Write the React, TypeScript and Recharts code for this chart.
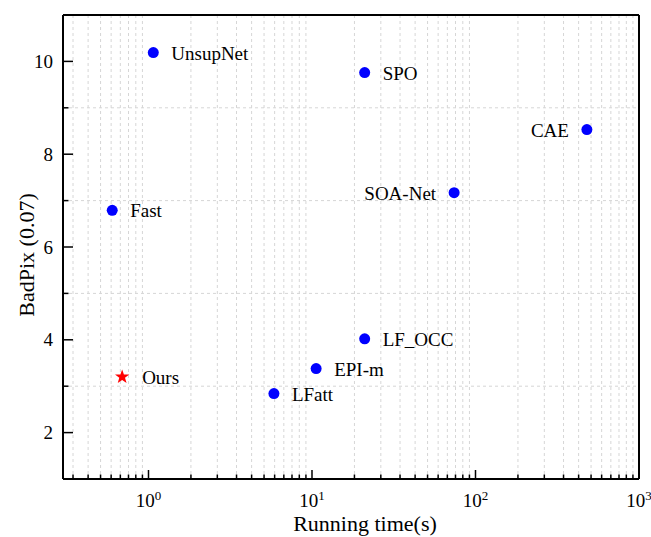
import React from 'react';
import { ScatterChart, Scatter, XAxis, YAxis, CartesianGrid } from 'recharts';

// BadPix (0.07) vs running time
const methodNames = ['UnsupNet', 'Fast', 'LFatt', 'EPI-m', 'LF_OCC', 'SPO', 'SOA-Net', 'CAE'];
const methodTimes = [1.07, 0.6, 5.85, 10.6, 21, 21, 74, 480];
const methodBadPix = [10.19, 6.79, 2.84, 3.38, 4.02, 9.76, 7.17, 8.53];

const oursNames = ['Ours'];
const oursTimes = [0.69];
const oursBadPix = [3.2];

// labels drawn on the left side of their point
const leftLabelled = ['SOA-Net', 'CAE'];

// log axis: majors at decades, Origin-style 10 minor ticks per decade
const xMajorTicks = [1, 10, 100, 1000];
const xMinorSteps = [1.818, 2.636, 3.455, 4.273, 5.091, 5.909, 6.727, 7.545, 8.364, 9.182];
const xDecades = [0.1, 1, 10, 100];

const yTicks = [2, 3, 4, 5, 6, 7, 8, 9, 10];
const yLabelled = [2, 4, 6, 8, 10];
const yGridLines = [3, 5, 7, 9];
const rightTicks = [1, 2, 3, 4, 5, 6, 7, 8];

const FONT = "'Liberation Serif', 'Times New Roman', serif";

const xMinorTicks = xDecades
  .flatMap((d) => xMinorSteps.map((s) => +(d * s).toPrecision(6)))
  .filter((v) => v > 0.3 && v < 1000);
const xTicks = [...xMinorTicks, ...xMajorTicks].sort((a, b) => a - b);

const methods = methodNames.map((name, i) => ({ name, time: methodTimes[i], badpix: methodBadPix[i] }));
const ours = oursNames.map((name, i) => ({ name, time: oursTimes[i], badpix: oursBadPix[i] }));

const isDecade = (v: number) => Math.abs(Math.log10(v) - Math.round(Math.log10(v))) < 1e-6;

const BottomTick = (props: any) => {
  const { x, y, payload } = props;
  const v = payload.value;
  const major = isDecade(v);
  return (
    <g>
      <line x1={x} x2={x} y1={y} y2={y - (major ? 9 : 4.5)} stroke="#000" strokeWidth={1.5} />
      {major && (
        <text x={x} y={y + 28} textAnchor="middle" fontSize={19} fontFamily={FONT} fill="#000">
          10
          <tspan dy={-7} fontSize={13}>
            {Math.round(Math.log10(v))}
          </tspan>
        </text>
      )}
    </g>
  );
};

const TopTick = (props: any) => {
  const { x, y } = props;
  return <line x1={x} x2={x} y1={y} y2={y + 4} stroke="#000" strokeWidth={1.5} />;
};

const LeftTick = (props: any) => {
  const { x, y, payload } = props;
  const major = yLabelled.includes(payload.value);
  return (
    <g>
      <line x1={x} x2={x + (major ? 10 : 5.5)} y1={y} y2={y} stroke="#000" strokeWidth={1.5} />
      {major && (
        <text x={x - 10} y={y + 6.5} textAnchor="end" fontSize={19} fontFamily={FONT} fill="#000">
          {payload.value}
        </text>
      )}
    </g>
  );
};

const RightTick = (props: any) => {
  const { x, y } = props;
  return <line x1={x} x2={x - 4} y1={y} y2={y} stroke="#000" strokeWidth={1.5} />;
};

const XTitle = () => (
  <text x={365} y={531} textAnchor="middle" fontSize={22} fontFamily={FONT} fill="#000">
    Running time(s)
  </text>
);

const YTitle = () => (
  <text
    x={34}
    y={255}
    transform="rotate(-90 34 255)"
    textAnchor="middle"
    fontSize={22}
    fontFamily={FONT}
    fill="#000"
  >
    BadPix (0.07)
  </text>
);

const MethodPoint = (props: any) => {
  const { cx, cy, payload } = props;
  const left = leftLabelled.includes(payload.name);
  return (
    <g>
      <circle cx={cx} cy={cy} r={5.5} fill="#0000ff" />
      <text
        x={left ? cx - 18 : cx + 18}
        y={cy + 7}
        textAnchor={left ? 'end' : 'start'}
        fontSize={19}
        fontFamily={FONT}
        fill="#000"
      >
        {payload.name}
      </text>
    </g>
  );
};

const starPath = (cx: number, cy: number, R: number, r: number) => {
  let d = '';
  for (let i = 0; i < 10; i++) {
    const a = -Math.PI / 2 + (i * Math.PI) / 5;
    const rad = i % 2 === 0 ? R : r;
    d += (i === 0 ? 'M' : 'L') + (cx + rad * Math.cos(a)).toFixed(2) + ',' + (cy + rad * Math.sin(a)).toFixed(2);
  }
  return d + 'Z';
};

const OursPoint = (props: any) => {
  const { cx, cy, payload } = props;
  return (
    <g>
      <path d={starPath(cx, cy, 7.5, 3)} fill="#ff0000" />
      <text x={cx + 20} y={cy + 7.5} fontSize={19} fontFamily={FONT} fill="#000">
        {payload.name}
      </text>
    </g>
  );
};

const axisLine = { stroke: '#000', strokeWidth: 2 };

export default function App() {
  return (
    <div style={{ position: 'absolute', left: 0, top: 0, width: 651, height: 537, background: '#fff' }}>
      <ScatterChart width={651} height={537} margin={{ top: 14, right: 11, bottom: 0, left: 0 }}>
        <CartesianGrid
          verticalValues={xMinorTicks}
          horizontalValues={yGridLines}
          stroke="#d6d6d6"
          strokeDasharray="3 3"
        />
        <XAxis
          dataKey="time"
          type="number"
          scale="log"
          domain={[0.3, 1000]}
          allowDataOverflow
          ticks={xTicks}
          interval={0}
          tickSize={0}
          tickMargin={0}
          tickLine={false}
          tick={BottomTick}
          axisLine={axisLine}
          height={58}
          label={XTitle}
        />
        <XAxis
          xAxisId="top"
          orientation="top"
          type="number"
          scale="log"
          domain={[0.3, 1000]}
          allowDataOverflow
          ticks={xMajorTicks}
          interval={0}
          tickSize={0}
          tickMargin={0}
          tickLine={false}
          tick={TopTick}
          axisLine={axisLine}
          height={1}
        />
        <YAxis
          dataKey="badpix"
          type="number"
          domain={[1, 11]}
          allowDataOverflow
          ticks={yTicks}
          interval={0}
          tickSize={0}
          tickMargin={0}
          tickLine={false}
          tick={LeftTick}
          axisLine={axisLine}
          width={63}
          label={YTitle}
        />
        <YAxis
          yAxisId="right"
          orientation="right"
          type="number"
          domain={[0, 9]}
          ticks={rightTicks}
          interval={0}
          tickSize={0}
          tickMargin={0}
          tickLine={false}
          tick={RightTick}
          axisLine={axisLine}
          width={1}
        />
        <Scatter data={methods} shape={MethodPoint} isAnimationActive={false} />
        <Scatter data={ours} shape={OursPoint} isAnimationActive={false} />
      </ScatterChart>
    </div>
  );
}
